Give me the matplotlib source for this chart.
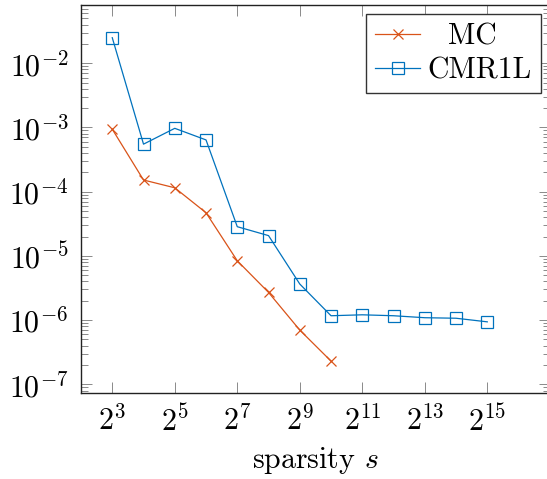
import numpy as np
import matplotlib
matplotlib.use("Agg")
import matplotlib.pyplot as plt
from matplotlib.ticker import LogLocator, FixedLocator, NullLocator, LogFormatterSciNotation

plt.rcParams["mathtext.fontset"] = "cm"
plt.rcParams["font.family"] = "serif"
plt.rcParams["font.serif"] = ["cmr10"]
plt.rcParams["axes.formatter.use_mathtext"] = True
plt.rcParams["font.size"] = 21.5

# values (x is log2 of sparsity)
mc_exp = [3, 4, 5, 6, 7, 8, 9, 10]
mc_err = [9.4e-4, 1.52e-4, 1.15e-4, 4.7e-5, 8.4e-6, 2.7e-6, 7.0e-7, 2.3e-7]

cmr_exp = [3, 4, 5, 6, 7, 8, 9, 10, 11, 12, 13, 14, 15]
cmr_err = [2.5e-2, 5.5e-4, 9.7e-4, 6.4e-4, 2.85e-5, 2.07e-5, 3.65e-6,
           1.17e-6, 1.21e-6, 1.17e-6, 1.09e-6, 1.07e-6, 9.4e-7]

xtick_exp = [3, 5, 7, 9, 11, 13, 15]

orange = "#D95319"
blue = "#0072BD"

fig = plt.figure(figsize=(5.47, 4.79), dpi=100)
ax = fig.add_axes([0.1481, 0.1802, 0.857, 0.8088])

ax.plot(2.0 ** np.array(mc_exp), mc_err, color=orange, lw=0.9, marker="x",
        ms=6.5, mew=0.9, label="  MC")
ax.plot(2.0 ** np.array(cmr_exp), cmr_err, color=blue, lw=0.9, marker="s",
        ms=8, mew=0.9, mfc="none", label="CMR1L")

ax.set_xscale("log", base=2)
ax.set_yscale("log")
ax.set_xlim(2 ** 2, 2 ** 17)
ax.set_ylim(10 ** -7.13, 10 ** -1.097)

ax.xaxis.set_major_locator(FixedLocator([2.0 ** k for k in xtick_exp]))
ax.set_xticklabels([f"$2^{{{k}}}$" for k in xtick_exp])
ax.xaxis.set_minor_locator(NullLocator())
ax.yaxis.set_major_locator(LogLocator(base=10, numticks=20))
ax.yaxis.set_minor_locator(LogLocator(base=10, subs=np.arange(2, 10), numticks=20))
ax.yaxis.set_major_formatter(LogFormatterSciNotation(base=10))

ax.tick_params(which="both", direction="in", top=True, right=True,
               color="#777777", width=0.6)
ax.tick_params(which="major", length=8, pad=9)
ax.tick_params(which="minor", length=5)
for sp in ax.spines.values():
    sp.set_linewidth(1.0)
    sp.set_color("#222222")

ax.set_xlabel("sparsity $s$", labelpad=6)

leg = ax.legend(loc="upper right", fancybox=False, framealpha=1,
                edgecolor="#333333", borderaxespad=0.3, handlelength=1.5,
                handletextpad=0.25, borderpad=0.3, labelspacing=0.2)
leg.get_frame().set_linewidth(1.0)

fig.savefig("out.png", dpi=100)
